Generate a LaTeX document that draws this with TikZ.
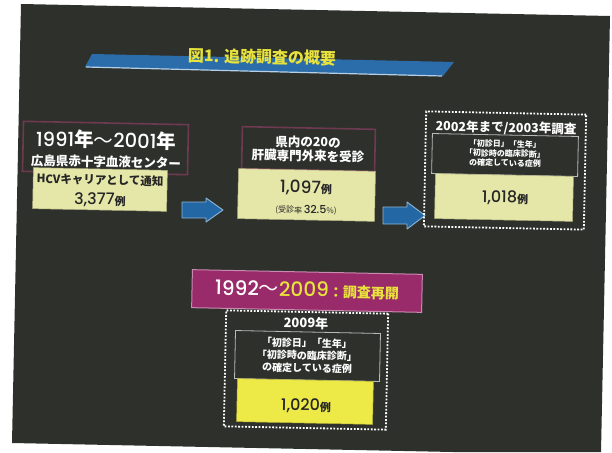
\documentclass[tikz,border=0pt]{standalone}
\usepackage{fontspec}
\setmainfont{Noto Sans CJK JP}
\newfontfamily\numfont{Poppins Medium}
\newcommand\myfs[1]{\fontsize{#1}{#1}\selectfont}
\definecolor{bgc}{HTML}{2E302C}
\definecolor{bandc}{HTML}{2B6CAB}
\definecolor{bandl}{HTML}{B5D0E6}
\definecolor{titley}{HTML}{E8E23C}
\definecolor{purb}{HTML}{6E3A50}
\definecolor{paley}{HTML}{E5E7A8}
\definecolor{brighty}{HTML}{EDEA48}
\definecolor{magc}{HTML}{9A2B6A}
\definecolor{magb}{HTML}{C88AB0}
\definecolor{arrowc}{HTML}{2467A5}
\definecolor{arrowe}{HTML}{8FB8D6}
\begin{document}
\begin{tikzpicture}[x=1pt,y=-1pt,
  every node/.style={rotate=-1.17,inner sep=0pt,outer sep=0pt},
  purplebox/.style={draw=purb,line width=1.6pt,fill=bgc},
  paleybox/.style={fill=paley,draw=paley!75!black,line width=0.5pt},
  brightybox/.style={fill=brighty,draw=brighty!75!black,line width=0.5pt},
  dotbox/.style={draw=white,line width=1.8pt,dash pattern=on 1.8pt off 1.6pt},
  innerbox/.style={draw=gray!55,line width=0.8pt},
  magbox/.style={fill=magc,draw=magb,line width=1pt},
  wtext/.style={text=white,font=\bfseries},
  ktext/.style={text=black!85},
  blockarrow/.style={fill=arrowc,draw=arrowe,line width=0.9pt,line join=round}]
\useasboundingbox (0,0) rectangle (612,452);
\fill[white] (0,0) rectangle (612,452);
\fill[bgc] (21,4) -- (610,16) -- (601,452) -- (453,452) -- (12,443) -- cycle;

% title band
\fill[bandc] (92,54) -- (454,62) -- (443,76) -- (85,67) -- cycle;
\draw[bandl,line width=1.2pt] (86,67) -- (442,76);
\node[text=titley,font=\bfseries\myfs{16}] (title) at (262,57) {図1. 追跡調査の概要};

% box 1
\node[purplebox,minimum width=165pt,minimum height=50pt] (b1) at (105.5,148) {};
\node[text=white,font=\myfs{19.5}] (t1a) at (106,140) {{\numfont 1991}{\bfseries 年}〜{\numfont 2001}{\bfseries 年}};
\node[wtext,font=\bfseries\myfs{12.5}] (t1b) at (106,162) {広島県赤十字血液センター};
\node[paleybox,minimum width=134pt,minimum height=41pt] (y1) at (100,189.5) {};
\node[ktext,font=\bfseries\myfs{11.5}] (t1c) at (100,180) {HCVキャリアとして通知};
\node[ktext] (t1d) at (100,200) {\numfont\myfs{16}3,377\rmfamily\bfseries\myfs{11}例};

% arrow 1
\coordinate (a1) at (182,194);
\draw[blockarrow] ([yshift=-8pt]a1) -- ++(24,0) -- ++(0,-4) -- ++(17,12) -- ++(-17,12) -- ++(0,-4) -- ++(-24,0) -- cycle;

% box 2
\node[purplebox,minimum width=133pt,minimum height=42pt] (b2) at (308.5,149) {};
\node[wtext,font=\bfseries\myfs{12.5}] (t2a) at (308,142) {県内の20の};
\node[wtext,font=\bfseries\myfs{12.5}] (t2b) at (308,156) {肝臓専門外来を受診};
\node[paleybox,minimum width=137pt,minimum height=50pt] (y2) at (306.5,195) {};
\node[ktext] (t2c) at (306,188) {\numfont\myfs{17}1,097\rmfamily\bfseries\myfs{11}例};
\node[ktext] (t2d) at (306,210) {\myfs{8}(受診率 {\numfont\myfs{11}32.5}\myfs{8}\%)};

% arrow 2
\coordinate (a2) at (383,198.5);
\draw[blockarrow] ([yshift=-8.5pt]a2) -- ++(24,0) -- ++(0,-5) -- ++(18,13.5) -- ++(-18,13.5) -- ++(0,-5) -- ++(-24,0) -- cycle;

% box 3
\node[dotbox,minimum width=160pt,minimum height=115pt] (d3) at (505,170.5) {};
\node[wtext,font=\bfseries\myfs{12.5}] (t3a) at (506,128) {2002年まで/2003年調査};
\node[innerbox,minimum width=146pt,minimum height=40pt] (i3) at (505,155) {};
\node[wtext,font=\bfseries\myfs{8}] (t3b) at (505,144) {「初診日」「生年」};
\node[wtext,font=\bfseries\myfs{8}] (t3c) at (505,153.5) {「初診時の臨床診断」};
\node[wtext,font=\bfseries\myfs{8}] (t3d) at (505,163) {の確定している症例};
\node[paleybox,minimum width=138pt,minimum height=45pt] (y3) at (504,197.5) {};
\node[ktext] (t3e) at (505,198) {\numfont\myfs{16}1,018\rmfamily\bfseries\myfs{11}例};

% magenta banner
\node[magbox,minimum width=230pt,minimum height=38pt] (m) at (307,291) {};
\node (tm) at (307,290) {\numfont\myfs{20}\color{white}1992\rmfamily〜\numfont\color{titley}2009\rmfamily\bfseries\myfs{14}：調査再開};

% box 4
\node[dotbox,minimum width=162pt,minimum height=116pt] (d4) at (306,370) {};
\node[wtext,font=\bfseries\myfs{13}] (t4a) at (306,323) {2009年};
\node[innerbox,minimum width=145pt,minimum height=48pt] (i4) at (307.5,356) {};
\node[wtext,font=\bfseries\myfs{10}] (t4b) at (307,343) {「初診日」「生年」};
\node[wtext,font=\bfseries\myfs{10}] (t4c) at (307,355.5) {「初診時の臨床診断」};
\node[wtext,font=\bfseries\myfs{10}] (t4d) at (307,368) {の確定している症例};
\node[brightybox,minimum width=136pt,minimum height=43pt] (y4) at (305,401.5) {};
\node[ktext] (t4e) at (306,406) {\numfont\myfs{16}1,020\rmfamily\bfseries\myfs{11}例};
\end{tikzpicture}
\end{document}
